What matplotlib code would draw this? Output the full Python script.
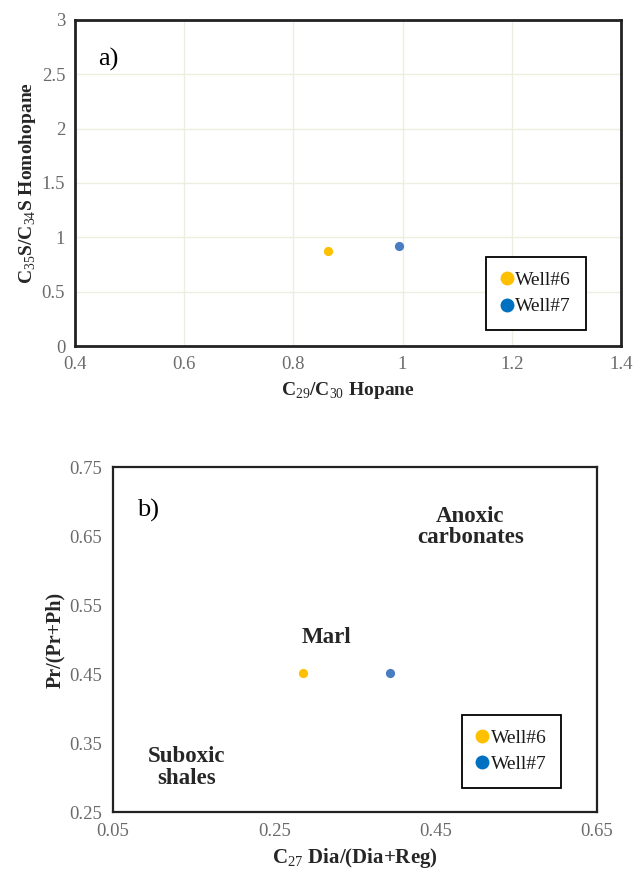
import matplotlib
matplotlib.use('Agg')
import matplotlib.pyplot as plt
from matplotlib.lines import Line2D
import numpy as np

plt.rcParams['font.family'] = ['Liberation Serif', 'DejaVu Serif']
plt.rcParams['mathtext.fontset'] = 'custom'
plt.rcParams['mathtext.rm'] = 'Liberation Serif'
plt.rcParams['mathtext.bf'] = 'Liberation Serif:bold'

# data
wells = ['Well#6', 'Well#7']
hopane_ratio = [0.863, 0.993]        # C29/C30 hopane
homohopane_ratio = [0.875, 0.92]     # C35S/C34S homohopane
dia_ratio = [0.285, 0.393]           # C27 Dia/(Dia+Reg)
pr_ratio = [0.451, 0.451]            # Pr/(Pr+Ph)

point_colors = ['#FFC000', '#4A7CC4']
legend_colors = ['#FFC000', '#0070C0']

a_xticks = [0.4, 0.6, 0.8, 1.0, 1.2, 1.4]
a_xlabels = ['0.4', '0.6', '0.8', '1', '1.2', '1.4']
a_yticks = [0, 0.5, 1, 1.5, 2, 2.5, 3]
a_ylabels = ['0', '0.5', '1', '1.5', '2', '2.5', '3']
b_xticks = [0.05, 0.25, 0.45, 0.65]
b_yticks = [0.25, 0.35, 0.45, 0.55, 0.65, 0.75]

fig = plt.figure(figsize=(6.35, 8.72), dpi=100)
ax1 = fig.add_axes([0.118, 0.6032, 0.860, 0.374])
ax2 = fig.add_axes([0.178, 0.0688, 0.762, 0.3956])

tick_col = '#6b6b6b'
lab_col = '#262626'


def legend_for(ax, anchor):
	handles = [Line2D([], [], marker='o', ls='none', ms=9, color=c, mec=c) for c in legend_colors]
	leg = ax.legend(handles, wells, loc='lower left', bbox_to_anchor=anchor, borderaxespad=0,
		fontsize=14, handlelength=0.6, handletextpad=0.15, labelspacing=0.45,
		borderpad=0.75, fancybox=False, edgecolor='black', framealpha=1)
	leg.get_frame().set_linewidth(1.3)
	for t in leg.get_texts():
		t.set_color('#1a1a1a')
	return leg


# panel a
for i in range(2):
	ax1.scatter(hopane_ratio[i], homohopane_ratio[i], s=44, color=point_colors[i], zorder=3, linewidths=0)
ax1.set_xlim(0.4, 1.4)
ax1.set_ylim(0, 3)
ax1.set_xticks(a_xticks)
ax1.set_xticklabels(a_xlabels)
ax1.set_yticks(a_yticks)
ax1.set_yticklabels(a_ylabels)
ax1.grid(True, color='#EDEDE0', lw=1)
ax1.set_axisbelow(True)
for s in ax1.spines.values():
	s.set_linewidth(2)
	s.set_color('#222222')
ax1.tick_params(length=0, labelsize=13.5, colors=tick_col, pad=7)
ax1.set_xlabel(r'C$_{29}$/C$_{30}$ Hopane', fontsize=14, fontweight='bold', color=lab_col, labelpad=5)
ax1.set_ylabel(r'C$_{35}$S/C$_{34}$S Homohopane', fontsize=14, fontweight='bold', color=lab_col, labelpad=3)
ax1.text(0.043, 0.86, 'a)', transform=ax1.transAxes, fontsize=19)
legend_for(ax1, (0.753, 0.049))

# panel b
for i in range(2):
	ax2.scatter(dia_ratio[i], pr_ratio[i], s=44, color=point_colors[i], zorder=3, linewidths=0)
ax2.set_xlim(0.05, 0.65)
ax2.set_ylim(0.25, 0.75)
ax2.set_xticks(b_xticks)
ax2.set_xticklabels(['0.05', '0.25', '0.45', '0.65'])
ax2.set_yticks(b_yticks)
ax2.set_yticklabels(['0.25', '0.35', '0.45', '0.55', '0.65', '0.75'])
for s in ax2.spines.values():
	s.set_linewidth(1.6)
	s.set_color('#222222')
ax2.tick_params(length=0, labelsize=13.5, colors=tick_col, pad=8)
ax2.set_xlabel(r'C$_{27}$ Dia/(Dia+Reg)', fontsize=15, fontweight='bold', color=lab_col, labelpad=4)
ax2.set_ylabel('Pr/(Pr+Ph)', fontsize=14.5, fontweight='bold', color=lab_col, labelpad=3)
ax2.text(0.05, 0.855, 'b)', transform=ax2.transAxes, fontsize=19)
ax2.text(0.738, 0.826, 'Anoxic\ncarbonates', transform=ax2.transAxes, fontsize=16.5, fontweight='bold',
	ha='center', va='center', color=lab_col, linespacing=1.05)
ax2.text(0.442, 0.507, 'Marl', transform=ax2.transAxes, fontsize=16.5, fontweight='bold',
	ha='center', va='center', color=lab_col)
ax2.text(0.153, 0.128, 'Suboxic\nshales', transform=ax2.transAxes, fontsize=16.5, fontweight='bold',
	ha='center', va='center', color=lab_col, linespacing=1.05)
legend_for(ax2, (0.721, 0.07))

fig.savefig('out.png', dpi=100)
